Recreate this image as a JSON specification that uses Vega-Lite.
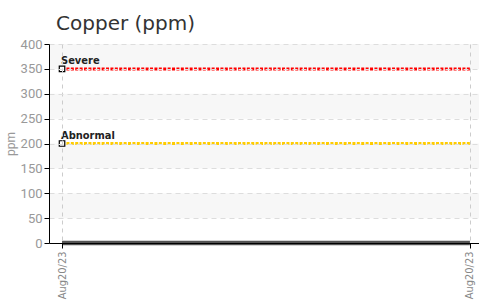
{
  "$schema": "https://vega.github.io/schema/vega-lite/v6.json",
  "width": 430,
  "height": 199,
  "autosize": {"type": "none"},
  "padding": {"left": 49, "top": 44, "right": 0, "bottom": 63},
  "background": "white",
  "title": {
    "text": "Copper (ppm)",
    "anchor": "start",
    "dx": 52,
    "offset": 4,
    "font": "DejaVu Sans",
    "fontSize": 20,
    "fontWeight": "normal",
    "color": "#333333"
  },
  "config": {
    "view": {"stroke": null},
    "axis": {"labelFont": "Roboto", "titleFont": "Roboto", "zindex": 1}
  },
  "datasets": {
    "bands": [
      {"lo": 50, "hi": 100},
      {"lo": 150, "hi": 200},
      {"lo": 250, "hi": 300},
      {"lo": 350, "hi": 400}
    ],
    "series": [
      {"date": "2023-08-20T06:00:00Z", "series": "Copper", "value": 0},
      {"date": "2023-08-20T18:00:00Z", "series": "Copper", "value": 0},
      {"date": "2023-08-20T06:00:00Z", "series": "Severe", "value": 350},
      {"date": "2023-08-20T18:00:00Z", "series": "Severe", "value": 350},
      {"date": "2023-08-20T06:00:00Z", "series": "Abnormal", "value": 200},
      {"date": "2023-08-20T18:00:00Z", "series": "Abnormal", "value": 200}
    ]
  },
  "layer": [
    {
      "data": {"name": "bands"},
      "mark": {"type": "rect", "color": "#f7f7f7"},
      "encoding": {
        "y": {
          "field": "lo", "type": "quantitative",
          "scale": {"domain": [0, 400], "nice": false},
          "axis": {
            "title": "ppm",
            "titleColor": "#999999",
            "titleFontSize": 12,
            "titleFontWeight": "normal",
            "titlePadding": 3,
            "tickCount": 8,
            "labelFontSize": 13,
            "labelColor": "#999999",
            "labelPadding": 2,
            "labelOverlap": false,
            "labelFlush": false,
            "domainColor": "#000000",
            "tickColor": "#000000",
            "tickSize": 5,
            "grid": true,
            "gridColor": "#dddddd",
            "gridDash": [5, 4],
            "zindex": 1
          }
        },
        "y2": {"field": "hi"}
      }
    },
    {
      "data": {"name": "series"},
      "transform": [{"filter": "datum.series === 'Severe'"}],
      "mark": {"type": "line", "color": "#ff0000", "strokeWidth": 3, "strokeDash": [3, 1.4]},
      "encoding": {
        "x": {
          "field": "date", "type": "temporal",
          "scale": {"type": "utc", "domain": [
            {"year": 2023, "month": 8, "date": 20, "hours": 5, "minutes": 37, "utc": true},
            {"year": 2023, "month": 8, "date": 20, "hours": 18, "minutes": 16, "utc": true}
          ]},
          "axis": {
            "title": null,
            "values": [
              {"year": 2023, "month": 8, "date": 20, "hours": 6, "utc": true},
              {"year": 2023, "month": 8, "date": 20, "hours": 18, "utc": true}
            ],
            "format": "%b%d/%y",
            "labelAngle": 270,
            "labelAlign": "right",
            "labelBaseline": "middle",
            "labelFont": "DejaVu Sans Condensed, Roboto, sans-serif",
            "labelFontSize": 11,
            "labelColor": "#888888",
            "labelPadding": 3,
            "domainColor": "#000000",
            "tickColor": "#000000",
            "tickSize": 5,
            "grid": true,
            "gridColor": "#cccccc",
            "gridDash": [4, 4],
            "labelFlush": false,
            "labelOverlap": false,
            "zindex": 1
          }
        },
        "y": {"field": "value", "type": "quantitative"}
      }
    },
    {
      "data": {"name": "series"},
      "transform": [{"filter": "datum.series === 'Abnormal'"}],
      "mark": {"type": "line", "color": "#ffcc00", "strokeWidth": 3, "strokeDash": [3, 1.4]},
      "encoding": {
        "x": {"field": "date", "type": "temporal"},
        "y": {"field": "value", "type": "quantitative"}
      }
    },
    {
      "data": {"name": "series"},
      "transform": [{"filter": "datum.series === 'Copper'"}],
      "mark": {"type": "line", "color": "#555555", "strokeWidth": 4.5, "zindex": 2},
      "encoding": {
        "x": {"field": "date", "type": "temporal"},
        "y": {"field": "value", "type": "quantitative"}
      }
    },
    {
      "data": {"name": "series"},
      "transform": [{"filter": "datum.series !== 'Copper'"}, {"window": [{"op": "row_number", "as": "rn"}], "groupby": ["series"], "sort": [{"field": "date"}]}, {"filter": "datum.rn === 1"}],
      "mark": {"type": "square", "size": 30, "fill": "white", "stroke": "black", "strokeWidth": 1.2, "opacity": 1, "zindex": 2},
      "encoding": {
        "x": {"field": "date", "type": "temporal"},
        "y": {"field": "value", "type": "quantitative"}
      }
    },
    {
      "data": {"name": "series"},
      "transform": [{"filter": "datum.series !== 'Copper'"}, {"window": [{"op": "row_number", "as": "rn"}], "groupby": ["series"], "sort": [{"field": "date"}]}, {"filter": "datum.rn === 1"}],
      "mark": {"type": "text", "align": "left", "baseline": "bottom", "dx": -1, "dy": -3, "font": "DejaVu Sans Condensed, Roboto, sans-serif", "fontSize": 11, "fontWeight": "bold", "color": "#222222", "zindex": 2},
      "encoding": {
        "x": {"field": "date", "type": "temporal"},
        "y": {"field": "value", "type": "quantitative"},
        "text": {"field": "series"}
      }
    }
  ]
}
